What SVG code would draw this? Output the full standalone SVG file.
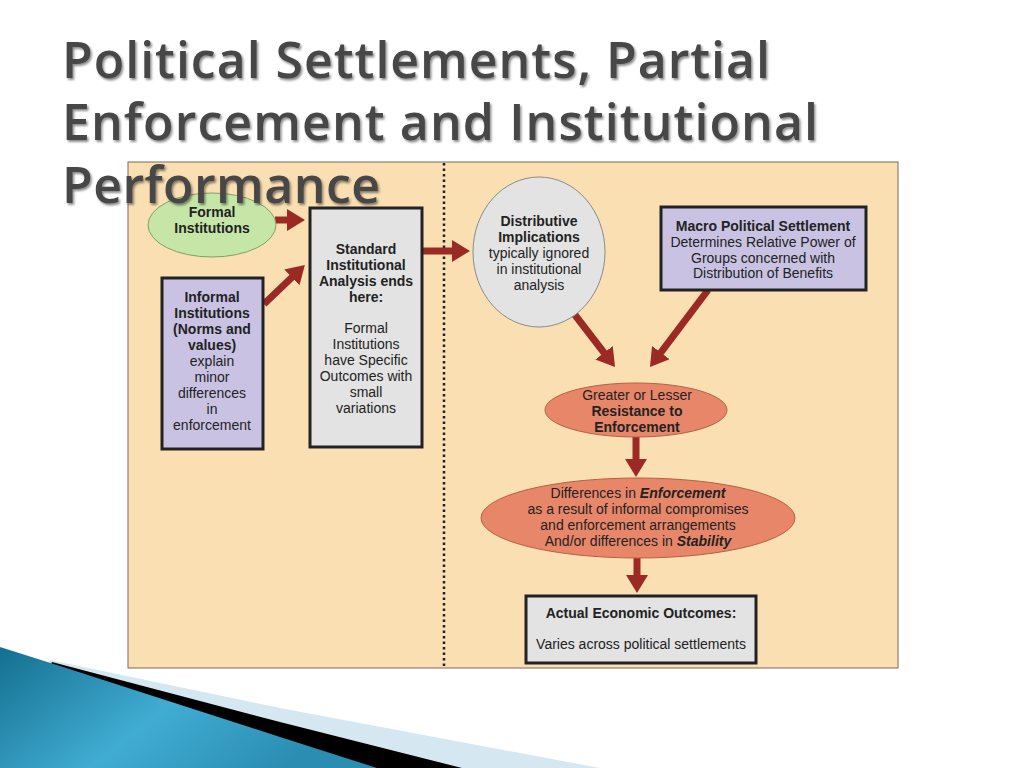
<svg xmlns="http://www.w3.org/2000/svg" width="1024" height="768" viewBox="0 0 1024 768">
<defs>
<style>
.t{font-family:"Liberation Sans",Arial,sans-serif;font-size:14px;fill:#222;text-anchor:middle}
.b{font-weight:bold}
.bi{font-weight:bold;font-style:italic}
.title{font-family:"Open Sans","Noto Sans",sans-serif;font-size:50px;font-weight:600;fill:#464646}
.box{stroke:#222;stroke-width:3}
.grey{fill:#e3e3e3}
.lav{fill:#c9c2e3}
.arr{stroke:#9b2a25;stroke-width:7;fill:none;marker-end:url(#ah)}
</style>
<marker id="ah" markerUnits="userSpaceOnUse" markerWidth="18" markerHeight="22" refX="6" refY="11" orient="auto">
<path d="M0,0 L18,11 L0,22 z" fill="#9b2a25"/>
</marker>
<linearGradient id="blue" x1="0" y1="0" x2="1" y2="0.4">
<stop offset="0" stop-color="#146f90"/>
<stop offset="0.55" stop-color="#41acd2"/>
<stop offset="1" stop-color="#2a8db2"/>
</linearGradient>
<filter id="sh" x="-5%" y="-20%" width="110%" height="140%">
<feDropShadow dx="1.5" dy="2" stdDeviation="1.2" flood-color="#000" flood-opacity="0.45"/>
</filter>
</defs>
<rect width="1024" height="768" fill="#fff"/>
<g id="swoosh">
<polygon points="50,660 280,708 600,768 0,768" fill="#d5e7f0"/>
<polygon points="52,662 280,722 462,768 0,768" fill="#000"/>
<polygon points="0,647 60,666 280,737 377,768 0,768" fill="url(#blue)"/>
</g>
<g id="panel">
<rect x="128" y="162" width="770" height="506" fill="#fadfb3" stroke="#7a6a5a" stroke-width="1"/>
<line x1="444" y1="163" x2="444" y2="667" stroke="#222" stroke-width="2.5" stroke-dasharray="2.5,3"/>
</g>
<g id="connectors">
<line class="arr" x1="275" y1="220" x2="293" y2="220"/>
<line class="arr" x1="264" y1="304" x2="296.2" y2="273.2"/>
<line class="arr" x1="422" y1="251" x2="458" y2="251"/>
<line class="arr" x1="575" y1="315" x2="607.7" y2="357.5"/>
<line class="arr" x1="708" y1="290" x2="657.2" y2="357.4"/>
<line class="arr" x1="636" y1="437" x2="636" y2="465"/>
<line class="arr" x1="637" y1="558" x2="637" y2="581"/>
</g>
<g id="formal">
<ellipse cx="212" cy="225" rx="64" ry="32" fill="#c6e6a8" stroke="#7fa066" stroke-width="1"/>
<text class="t b" x="212" y="217">Formal</text>
<text class="t b" x="212" y="233">Institutions</text>
</g>
<g id="standard">
<rect class="box grey" x="310" y="208" width="112" height="239"/>
<text class="t b" x="366" y="254">Standard</text>
<text class="t b" x="366" y="270">Institutional</text>
<text class="t b" x="366" y="286">Analysis ends</text>
<text class="t b" x="366" y="302">here:</text>
<text class="t" x="366" y="333">Formal</text>
<text class="t" x="366" y="349">Institutions</text>
<text class="t" x="366" y="365">have Specific</text>
<text class="t" x="366" y="381">Outcomes with</text>
<text class="t" x="366" y="397">small</text>
<text class="t" x="366" y="413">variations</text>
</g>
<g id="informal">
<rect class="box lav" x="162" y="278" width="101" height="171"/>
<text class="t b" x="212" y="302">Informal</text>
<text class="t b" x="212" y="318">Institutions</text>
<text class="t b" x="212" y="334">(Norms and</text>
<text class="t b" x="212" y="350">values)</text>
<text class="t" x="212" y="366">explain</text>
<text class="t" x="212" y="382">minor</text>
<text class="t" x="212" y="398">differences</text>
<text class="t" x="212" y="414">in</text>
<text class="t" x="212" y="430">enforcement</text>
</g>
<g id="distributive">
<ellipse cx="539" cy="252" rx="66" ry="75" fill="#e3e3e3" stroke="#8a8a8a" stroke-width="1"/>
<text class="t b" x="539" y="226">Distributive</text>
<text class="t b" x="539" y="242">Implications</text>
<text class="t" x="539" y="258">typically ignored</text>
<text class="t" x="539" y="274">in institutional</text>
<text class="t" x="539" y="290">analysis</text>
</g>
<g id="macro">
<rect class="box lav" x="661" y="207" width="205" height="83"/>
<text class="t b" x="763" y="231">Macro Political Settlement</text>
<text class="t" x="763" y="247">Determines Relative Power of</text>
<text class="t" x="763" y="263">Groups concerned with</text>
<text class="t" x="763" y="278">Distribution of Benefits</text>
</g>
<g id="resistance">
<ellipse cx="636" cy="410" rx="91" ry="27" fill="#e8866a" stroke="#b8603f" stroke-width="1"/>
<text class="t" x="637" y="400">Greater or Lesser</text>
<text class="t b" x="637" y="416">Resistance to</text>
<text class="t b" x="637" y="432">Enforcement</text>
</g>
<g id="differences">
<ellipse cx="638" cy="518" rx="157" ry="40" fill="#e8866a" stroke="#b8603f" stroke-width="1"/>
<text class="t" x="638" y="498">Differences in <tspan class="bi">Enforcement</tspan></text>
<text class="t" x="638" y="514">as a result of informal compromises</text>
<text class="t" x="638" y="530">and enforcement arrangements</text>
<text class="t" x="638" y="546">And/or differences in <tspan class="bi">Stability</tspan></text>
</g>
<g id="actual">
<rect class="box grey" x="526" y="596" width="230" height="67"/>
<text class="t b" x="641" y="618">Actual Economic Outcomes:</text>
<text class="t" x="641" y="649">Varies across political settlements</text>
</g>
<g id="title" filter="url(#sh)">
<text class="title" x="62" y="78" textLength="708" lengthAdjust="spacing">Political Settlements, Partial</text>
<text class="title" x="62" y="140" textLength="756" lengthAdjust="spacing">Enforcement and Institutional</text>
<text class="title" x="62" y="203" textLength="318" lengthAdjust="spacing">Performance</text>
</g>
</svg>
